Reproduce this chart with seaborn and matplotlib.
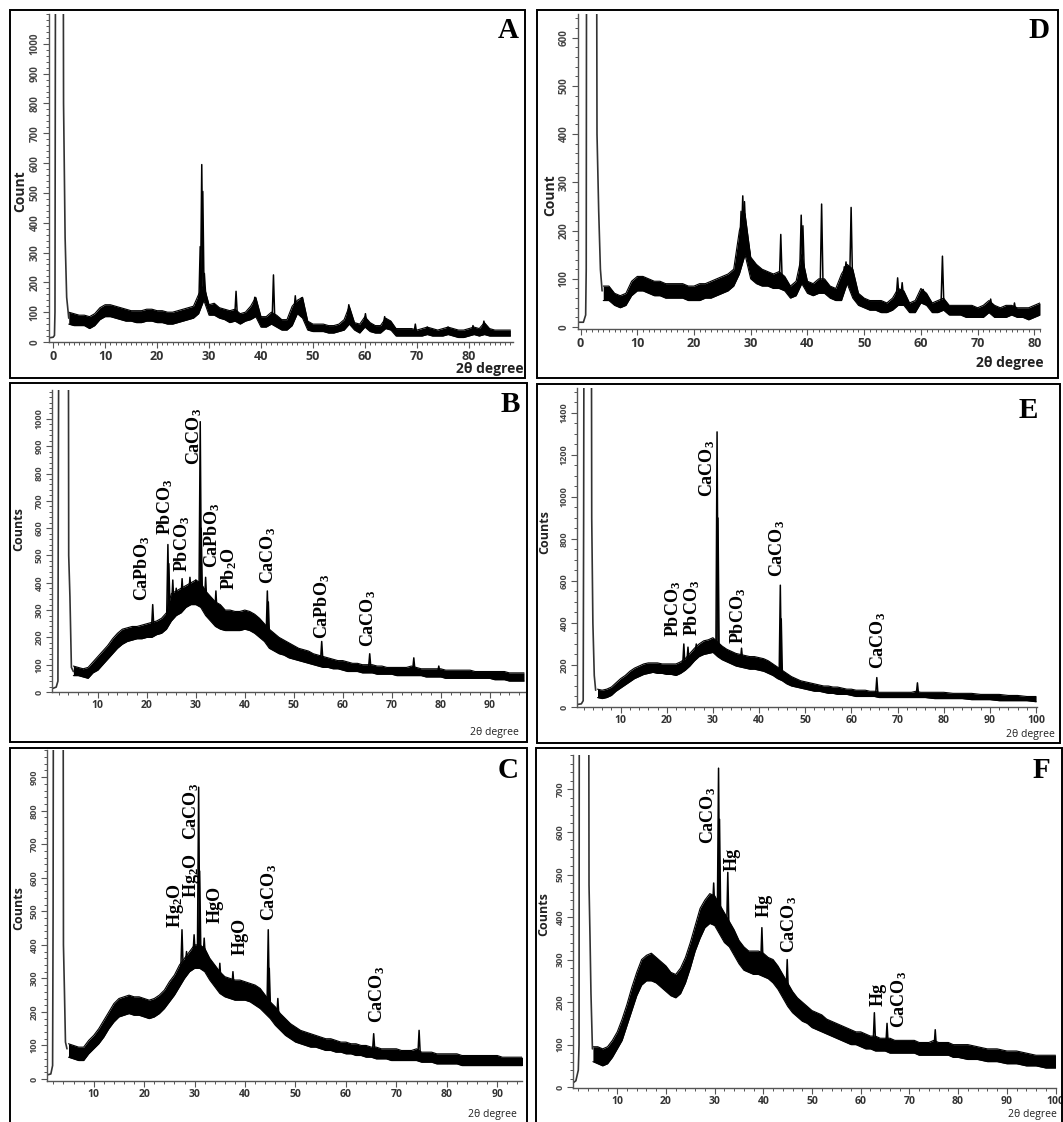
import numpy as np
import matplotlib
matplotlib.use("Agg")
import matplotlib.pyplot as plt
from matplotlib.patches import Rectangle
from matplotlib.ticker import MultipleLocator
import seaborn as sns

# ---------------- data ----------------
# instrument wall at low angle
a_wall_x = [-0.8, 0.0, 0.25, 0.35, 0.45, 1.95, 2.0, 2.3, 2.6, 3.0]
a_wall_y = [14, 16, 22, 100, 1300, 1300, 800, 350, 150, 80]
# noisy background band: lower / upper edge at each degree
a_x = list(range(3, 89))
a_lo = [60, 55, 55, 55, 45, 55, 75, 85, 85, 80,
        75, 70, 70, 65, 65, 70, 70, 65, 65, 60,
        60, 65, 70, 75, 80, 95, 140, 90, 90, 80,
        75, 65, 70, 60, 70, 75, 85, 50, 50, 60,
        50, 40, 40, 55, 95, 80, 40, 35, 35, 35,
        30, 30, 35, 40, 60, 40, 30, 50, 35, 30,
        30, 45, 40, 20, 20, 20, 20, 20, 20, 25,
        20, 20, 20, 25, 20, 15, 15, 20, 25, 20,
        25, 20, 20, 20, 20, 20]
a_hi = [100, 95, 90, 90, 85, 95, 115, 125, 125, 120,
        115, 110, 105, 105, 105, 110, 110, 105, 105, 100,
        100, 105, 110, 115, 120, 160, 190, 125, 130, 115,
        110, 105, 110, 95, 100, 120, 150, 85, 85, 100,
        90, 75, 75, 120, 140, 150, 70, 60, 60, 60,
        55, 55, 60, 75, 120, 65, 60, 85, 65, 55,
        55, 80, 70, 45, 45, 45, 45, 40, 45, 50,
        45, 40, 45, 50, 45, 40, 40, 45, 50, 45,
        65, 45, 40, 40, 40, 40]
a_pk_x = [28.3, 28.6, 28.8, 29.1, 35.2, 38.8, 42.4, 46.6, 47.8, 56.9, 60.1, 63.8, 64.8, 69.7, 72.0, 76.0, 80.8, 82.9]
a_pk_y = [320, 595, 505, 230, 170, 150, 225, 155, 148, 125, 95, 85, 70, 60, 50, 50, 55, 70]

d_wall_x = [-0.45, 0.5, 0.9, 1.0, 1.05, 2.85, 2.9, 3.2, 3.5, 3.8]
d_wall_y = [10, 10, 25, 120, 700, 700, 400, 240, 120, 75]
d_x = list(range(4, 82))
d_lo = [55, 55, 45, 40, 45, 65, 75, 75, 70, 65,
        65, 60, 60, 60, 60, 55, 55, 55, 60, 60,
        65, 70, 75, 85, 110, 150, 100, 90, 85, 85,
        80, 80, 75, 60, 65, 90, 70, 65, 70, 70,
        60, 55, 55, 90, 60, 45, 40, 35, 35, 30,
        30, 35, 45, 45, 30, 30, 50, 45, 30, 30,
        35, 25, 25, 25, 20, 20, 20, 20, 30, 20,
        20, 20, 25, 20, 20, 15, 20, 25]
d_hi = [85, 85, 70, 65, 70, 95, 105, 105, 100, 95,
        95, 90, 90, 90, 90, 85, 85, 90, 90, 95,
        100, 105, 110, 120, 200, 235, 145, 130, 120, 115,
        110, 115, 105, 85, 95, 150, 95, 90, 100, 100,
        85, 80, 110, 130, 120, 70, 60, 55, 55, 55,
        50, 60, 80, 75, 50, 55, 80, 70, 50, 55,
        60, 45, 45, 45, 45, 45, 40, 45, 55, 45,
        40, 45, 45, 40, 40, 40, 45, 50]
d_pk_x = [28.3, 28.6, 28.9, 29.6, 35.3, 38.9, 39.2, 42.5, 46.5, 46.8, 47.7, 55.9, 56.7, 60.4, 63.8, 72.3, 76.5]
d_pk_y = [240, 272, 260, 170, 192, 232, 210, 255, 125, 135, 248, 102, 92, 78, 147, 58, 50]

b_wall_x = [0.64, 1.5, 1.85, 1.95, 2.0, 4.0, 4.05, 4.3, 4.6, 5.0]
b_wall_y = [12, 18, 40, 880, 1200, 1200, 500, 350, 90, 75]
b_x = list(range(5, 98))
b_lo = [60, 60, 55, 50, 70, 80, 100, 120, 140, 160,
        175, 185, 190, 195, 195, 200, 200, 210, 215, 230,
        260, 280, 290, 310, 320, 320, 310, 280, 260, 240,
        230, 225, 225, 225, 225, 230, 225, 215, 200, 185,
        160, 150, 140, 135, 125, 120, 115, 110, 105, 100,
        95, 90, 90, 85, 85, 80, 75, 75, 75, 70,
        70, 70, 65, 65, 65, 65, 60, 60, 60, 60,
        60, 60, 55, 55, 55, 55, 50, 50, 50, 50,
        50, 50, 50, 50, 50, 50, 45, 45, 45, 40,
        40, 40, 40]
b_hi = [95, 90, 85, 90, 110, 130, 150, 170, 195, 215,
        230, 235, 240, 240, 245, 250, 255, 260, 270, 290,
        360, 370, 380, 390, 400, 410, 400, 370, 350, 330,
        320, 300, 300, 295, 295, 300, 295, 285, 270, 250,
        230, 215, 200, 190, 180, 170, 160, 155, 150, 140,
        135, 130, 125, 120, 115, 115, 110, 105, 105, 100,
        100, 100, 95, 95, 90, 90, 90, 90, 90, 95,
        90, 85, 85, 85, 85, 85, 80, 80, 80, 80,
        80, 80, 75, 75, 75, 75, 75, 75, 75, 70,
        70, 70, 70]
b_pk_x = [21.2, 24.3, 24.5, 25.3, 26.0, 27.2, 28.8, 30.0, 30.9, 31.1, 32.0, 34.1, 44.6, 44.8, 55.7, 65.5, 74.5, 79.6]
b_pk_y = [320, 540, 470, 410, 380, 415, 420, 410, 990, 600, 420, 370, 370, 330, 185, 140, 125, 95]
b_lab_x = [19.0, 23.8, 27.3, 29.6, 33.4, 36.9, 44.7, 55.8, 65.2]
b_lab_y = [335, 575, 440, 830, 455, 372, 396, 195, 165]
b_lab = ["CaPbO$_3$", "PbCO$_3$", "PbCO$_3$", "CaCO$_3$", "CaPbO$_3$", "Pb$_2$O",
         "CaCO$_3$", "CaPbO$_3$", "CaCO$_3$"]

e_wall_x = [0.56, 1.5, 1.9, 2.0, 2.05, 3.7, 3.75, 4.0, 4.3, 4.6]
e_wall_y = [12, 15, 30, 900, 1600, 1600, 900, 400, 150, 80]
e_x = list(range(5, 76)) + list(range(76, 101, 2))
e_lo = [45, 40, 45, 55, 75, 90, 105, 120, 135, 145,
        155, 160, 165, 160, 160, 155, 155, 150, 160, 175,
        195, 220, 240, 250, 255, 260, 240, 225, 215, 205,
        195, 190, 185, 180, 180, 175, 170, 160, 150, 135,
        125, 110, 100, 95, 90, 85, 80, 75, 75, 70,
        65, 65, 60, 60, 60, 55, 50, 50, 50, 50,
        50, 45, 45, 45, 45, 45, 45, 45, 45, 45,
        45,
        45, 40, 40, 40, 40, 35, 35, 35, 30, 30, 30, 30, 25]
e_hi = [85, 80, 85, 95, 115, 135, 150, 170, 185, 195,
        205, 210, 210, 210, 205, 205, 205, 205, 215, 230,
        255, 280, 300, 315, 320, 330, 310, 290, 275, 265,
        255, 250, 245, 240, 240, 235, 230, 220, 205, 190,
        175, 160, 145, 135, 125, 120, 115, 110, 105, 100,
        100, 95, 95, 90, 85, 85, 80, 80, 80, 75,
        75, 70, 70, 70, 70, 70, 70, 70, 70, 75,
        70,
        70, 70, 70, 65, 65, 65, 60, 60, 60, 55, 55, 50, 50]
e_pk_x = [23.7, 24.6, 26.4, 30.9, 31.1, 36.2, 44.6, 44.8, 65.5, 74.3]
e_pk_y = [300, 285, 300, 1310, 900, 280, 580, 420, 140, 115]
e_lab_x = [21.4, 25.4, 28.7, 35.5, 43.9, 65.7]
e_lab_y = [332, 340, 1000, 300, 619, 180]
e_lab = ["PbCO$_3$", "PbCO$_3$", "CaCO$_3$", "PbCO$_3$", "CaCO$_3$", "CaCO$_3$"]

c_wall_x = [0.74, 1.5, 1.85, 1.95, 2.0, 3.95, 4.0, 4.2, 4.4, 4.7]
c_wall_y = [12, 15, 40, 500, 1100, 1100, 400, 260, 110, 90]
c_x = list(range(5, 96))
c_lo = [65, 60, 55, 55, 75, 90, 105, 125, 150, 170,
        185, 190, 195, 190, 190, 185, 180, 185, 195, 210,
        230, 250, 275, 300, 320, 330, 330, 320, 295, 275,
        255, 245, 240, 235, 235, 235, 230, 220, 210, 195,
        180, 160, 145, 130, 120, 110, 105, 100, 95, 95,
        90, 85, 85, 80, 80, 75, 75, 70, 70, 65,
        65, 60, 60, 60, 55, 55, 55, 55, 55, 55,
        50, 50, 50, 45, 45, 45, 45, 45, 40, 40,
        40, 40, 40, 40, 40, 40, 40, 40, 40, 40,
        40]
c_hi = [105, 100, 95, 95, 115, 130, 150, 175, 200, 225,
        240, 245, 250, 245, 245, 240, 235, 240, 250, 265,
        290, 310, 340, 360, 380, 400, 400, 390, 360, 340,
        320, 305, 300, 295, 295, 290, 285, 280, 270, 250,
        230, 215, 195, 180, 165, 155, 145, 140, 135, 130,
        125, 120, 120, 115, 110, 110, 105, 105, 100, 100,
        95, 95, 90, 90, 90, 90, 85, 85, 85, 90,
        80, 80, 80, 75, 75, 75, 75, 75, 70, 70,
        70, 70, 70, 70, 70, 70, 65, 65, 65, 65,
        65]
c_pk_x = [27.5, 28.4, 29.9, 30.8, 31.0, 31.9, 35.0, 37.6, 44.6, 44.8, 46.5, 65.5, 74.5]
c_pk_y = [445, 380, 430, 870, 620, 420, 345, 320, 445, 330, 240, 135, 145]
c_lab_x = [26.2, 29.3, 29.3, 34.0, 39.0, 44.7, 66.2]
c_lab_y = [450, 541, 712, 465, 369, 470, 167]
c_lab = ["Hg$_2$O", "Hg$_2$O", "CaCO$_3$", "HgO", "HgO", "CaCO$_3$", "CaCO$_3$"]

f_wall_x = [0.91, 1.5, 2.0, 2.15, 2.2, 4.15, 4.2, 4.4, 4.6, 4.9]
f_wall_y = [10, 15, 40, 100, 900, 900, 475, 355, 220, 90]
f_x = list(range(5, 81)) + list(range(82, 101, 2))
f_lo = [60, 55, 50, 55, 70, 90, 110, 145, 180, 215,
        240, 250, 250, 245, 235, 225, 215, 210, 220, 245,
        280, 320, 350, 375, 385, 380, 360, 340, 330, 310,
        290, 275, 270, 265, 265, 260, 255, 245, 230, 210,
        190, 175, 165, 155, 150, 140, 135, 130, 125, 120,
        115, 110, 105, 100, 100, 95, 90, 90, 85, 85,
        85, 80, 80, 80, 80, 80, 80, 75, 75, 75,
        75, 75, 75, 75, 70, 70,
        65, 65, 60, 60, 55, 55, 50, 50, 45, 45]
f_hi = [95, 95, 90, 95, 110, 130, 160, 195, 235, 270,
        300, 310, 315, 305, 295, 285, 270, 265, 280, 305,
        340, 380, 420, 440, 455, 450, 430, 410, 390, 370,
        345, 330, 320, 320, 320, 315, 305, 300, 285, 265,
        245, 225, 210, 200, 190, 180, 175, 170, 160, 155,
        150, 145, 140, 135, 130, 130, 125, 120, 120, 115,
        115, 115, 110, 110, 110, 110, 110, 105, 105, 105,
        110, 105, 105, 105, 100, 100,
        100, 95, 90, 90, 85, 85, 80, 75, 75, 75]
f_pk_x = [29.8, 30.8, 31.0, 32.7, 39.7, 44.9, 62.8, 65.4, 75.3]
f_pk_y = [480, 750, 630, 505, 375, 300, 175, 150, 135]
f_lab_x = [28.6, 33.5, 40.1, 45.2, 63.6, 67.8]
f_lab_y = [572, 508, 400, 315, 191, 139]
f_lab = ["CaCO$_3$", "Hg", "Hg", "CaCO$_3$", "Hg", "CaCO$_3$"]

# ---------------- style ----------------
sns.set_theme(style="ticks")
plt.rcParams['font.family'] = ['Open Sans', 'DejaVu Sans']
plt.rcParams['mathtext.fontset'] = 'custom'
plt.rcParams['mathtext.rm'] = 'Liberation Serif:bold'
plt.rcParams['mathtext.default'] = 'rm'

W, H = 1063, 1122
fig = plt.figure(figsize=(W / 100, H / 100), dpi=100)
fig.patch.set_facecolor('white')


def box(l, t, r, b):
    return [l / W, 1 - b / H, (r - l) / W, (b - t) / H]


def frame(l, t, r, b):
    fig.patches.append(Rectangle((l / W, 1 - b / H), (r - l) / W, (b - t) / H,
                                 transform=fig.transFigure, fill=False,
                                 edgecolor='black', lw=1.4))


def panel(pos, xlim, ylim, xt, yt, xminor, yminor, wx, wy, x, lo, hi, px, py,
          xsize, ysize):
    ax = fig.add_axes(box(*pos))
    lo = np.array(lo, dtype=float)
    hi = np.array(hi, dtype=float)
    ax.fill_between(x, lo, hi, color='black', lw=0)
    sns.lineplot(x=x, y=lo, ax=ax, color='black', lw=0.8)
    sns.lineplot(x=x, y=hi, ax=ax, color='black', lw=0.8)
    sns.lineplot(x=wx, y=wy, ax=ax, color='#333333', lw=1.2)
    base = np.interp(px, x, (lo + hi) / 2)
    for xi, b, t in zip(px, base, py):
        ax.plot([xi - 0.25, xi, xi + 0.25], [b, t, b], color='black', lw=1.1)
    ax.set_xlim(*xlim)
    ax.set_ylim(*ylim)
    ax.set_xticks(xt)
    ax.set_yticks(yt)
    ax.xaxis.set_minor_locator(MultipleLocator(xminor))
    ax.yaxis.set_minor_locator(MultipleLocator(yminor))
    ax.set_xlabel('')
    ax.set_ylabel('')
    for s in ['top', 'right']:
        ax.spines[s].set_visible(False)
    for s in ['left', 'bottom']:
        ax.spines[s].set_color('#555555')
        ax.spines[s].set_linewidth(1.0)
    ax.tick_params(which='major', length=4, width=0.8, color='#555555', pad=2)
    ax.tick_params(which='minor', length=2, width=0.7, color='#555555')
    ax.tick_params(axis='x', labelsize=xsize, labelcolor='#333333')
    ax.tick_params(axis='y', labelsize=ysize, labelcolor='#444444')
    for lb in ax.get_xticklabels():
        lb.set_fontweight('bold')
    for lb in ax.get_yticklabels():
        lb.set_rotation(90)
        lb.set_va('center')
        lb.set_fontweight('bold')
    ax.set_facecolor('none')
    return ax


def labels(ax, lx, ly, txt):
    for xi, yi, t in zip(lx, ly, txt):
        ax.text(xi, yi, t, rotation=90, ha='center', va='bottom',
                family='Liberation Serif', fontweight='bold', fontsize=13,
                color='black')


def ftext(x, y, s, **kw):
    fig.text(x / W, 1 - y / H, s, **kw)


# frames
frame(10, 10, 525, 378)
frame(537, 10, 1058, 378)
frame(10, 383, 527, 742)
frame(537, 384, 1060, 743)
frame(10, 748, 527, 1130)
frame(536, 748, 1062, 1130)

# A
axA = panel((49, 14, 513, 342), (-0.8, 88.5), (0, 1100), range(0, 81, 10), range(0, 1001, 100),
            1, 20, a_wall_x, a_wall_y, a_x, a_lo, a_hi, a_pk_x, a_pk_y, 9, 7)
# D
axD = panel((578, 14, 1040, 329), (-0.45, 81.0), (-4, 649), range(0, 81, 10), range(0, 601, 100),
            1, 20, d_wall_x, d_wall_y, d_x, d_lo, d_hi, d_pk_x, d_pk_y, 9, 7)
# B
axB = panel((52, 390, 525, 692), (0.64, 97.2), (0, 1106), range(10, 91, 10), range(0, 1001, 100),
            2, 20, b_wall_x, b_wall_y, b_x, b_lo, b_hi, b_pk_x, b_pk_y, 7.5, 6.5)
labels(axB, b_lab_x, b_lab_y, b_lab)
# E
axE = panel((577, 388, 1037, 707), (0.56, 100.2), (0, 1519), range(10, 101, 10), range(0, 1401, 200),
            2, 50, e_wall_x, e_wall_y, e_x, e_lo, e_hi, e_pk_x, e_pk_y, 7.5, 6.5)
labels(axE, e_lab_x, e_lab_y, e_lab)
# C
axC = panel((47, 750, 522, 1081), (0.74, 94.9), (-6, 981), range(10, 91, 10), range(0, 901, 100),
            2, 20, c_wall_x, c_wall_y, c_x, c_lo, c_hi, c_pk_x, c_pk_y, 7.5, 6.5)
labels(axC, c_lab_x, c_lab_y, c_lab)
# F
axF = panel((573, 755, 1056, 1088), (0.91, 100.1), (-2, 781), range(10, 101, 10), range(0, 701, 100),
            2, 20, f_wall_x, f_wall_y, f_x, f_lo, f_hi, f_pk_x, f_pk_y, 7.5, 6.5)
labels(axF, f_lab_x, f_lab_y, f_lab)

# y axis titles
for (x, y, s, fs) in [(20, 191, 'Count', 10), (550, 195, 'Count', 10),
                      (19, 529, 'Counts', 9), (545, 532, 'Counts', 9),
                      (19, 908, 'Counts', 9), (544, 914, 'Counts', 9)]:
    ftext(x, y, s, rotation=90, ha='center', va='center', fontsize=fs,
          fontweight='bold', color='#222222')

# x axis titles
for (x, y, fs, fw) in [(524, 369, 10, 'bold'), (1044, 363, 10, 'bold'),
                       (519, 732, 7.5, 'normal'), (1055, 734, 7.5, 'normal'),
                       (517, 1114, 7.5, 'normal'), (1057, 1114, 7.5, 'normal')]:
    ftext(x, y, '2θ degree', ha='right', va='center', fontsize=fs,
          fontweight=fw, color='#222222')

# panel letters
for (x, y, s) in [(519, 30, 'A'), (1049, 30, 'D'), (520, 404, 'B'),
                  (1038, 410, 'E'), (519, 770, 'C'), (1050, 770, 'F')]:
    ftext(x, y, s, ha='right', va='center', fontsize=21, fontweight='bold',
          family='Liberation Serif', color='black')

fig.savefig('out.png', dpi=100)
